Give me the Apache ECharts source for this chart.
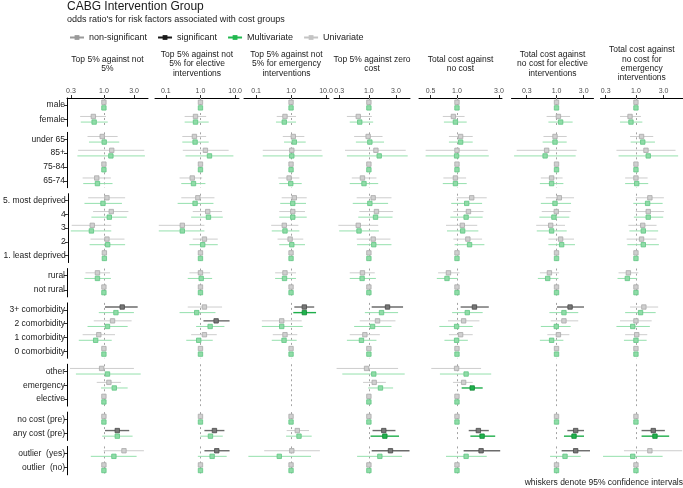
<!DOCTYPE html>
<html>
<head>
<meta charset="utf-8">
<title>CABG Intervention Group</title>
<script src="https://cdn.jsdelivr.net/npm/echarts@6.0.0/dist/echarts.min.js"></script>
<style>
html, body { margin: 0; padding: 0; background: #fff; }
#chart { width: 683px; height: 488px; }
</style>
</head>
<body>
<div id="chart"></div>
<script>
// facet groups (rows of the chart), top to bottom
const groupSizes = [2, 4, 5, 2, 4, 3, 2, 2];
const rowLabels = [
  'male', 'female',
  'under 65', '85+', '75-84', '65-74',
  '5. most deprived', '4', '3', '2', '1. least deprived',
  'rural', 'not rural',
  '3+ comorbidity', '2 comorbidity', '1 comorbidity', '0 comorbidity',
  'other', 'emergency', 'elective',
  'no cost (pre)', 'any cost (pre)',
  'outlier  (yes)', 'outlier  (no)'
];
const panelTitles = [
  'Top 5% against not\n5%',
  'Top 5% against not\n5% for elective\ninterventions',
  'Top 5% against not\n5% for emergency\ninterventions',
  'Top 5% against zero\ncost',
  'Total cost against\nno cost',
  'Total cost against\nno cost for elective\ninterventions',
  'Total cost against\nno cost for\nemergency\ninterventions'
];
const panelTicks = [[0.3, 1, 3], [0.1, 1, 10], [0.1, 1, 10], [0.3, 1, 3], [0.5, 1, 3], [0.3, 1, 3], [0.3, 1, 3]];
const panelRange = [[0.26, 5.0], [0.049, 12.9], [0.045, 12.2], [0.243, 5.3], [0.37, 3.25], [0.162, 4.46], [0.244, 6.5]];

// odds ratio [estimate, lower, upper]; R = reference category
const R = [1, 1, 1];
const top5Uni = [
  R, [0.68, 0.42, 1.08],
  [0.94, 0.55, 1.65], [1.33, 0.39, 4.36], R, [0.77, 0.46, 1.29],
  [1.10, 0.55, 2.15], [1.29, 0.66, 2.43], [0.64, 0.30, 1.29], [1.10, 0.60, 2.10], R,
  [0.79, 0.51, 1.25], R,
  [1.95, 1.04, 3.43], [1.37, 0.69, 2.75], [0.83, 0.46, 1.50], R,
  [0.92, 0.29, 2.99], [1.20, 0.77, 1.86], R,
  R, [1.63, 1.04, 2.52],
  [2.08, 0.99, 4.31], R
];
const top5Multi = [
  R, [0.70, 0.43, 1.15],
  [1.01, 0.58, 1.75], [1.29, 0.38, 4.47], R, [0.79, 0.47, 1.37],
  [0.95, 0.48, 1.91], [1.20, 0.62, 2.29], [0.62, 0.29, 1.29], [1.13, 0.58, 2.15], R,
  [0.79, 0.49, 1.29], R,
  [1.55, 0.83, 2.99], [1.14, 0.55, 2.38], [0.74, 0.40, 1.33], R,
  [1.14, 0.36, 3.83], [1.46, 0.90, 2.38], R,
  R, [1.63, 0.94, 2.85],
  [1.44, 0.62, 3.30], R
];
const top5ElecUni = [
  R, [0.72, 0.35, 1.46],
  [0.67, 0.30, 1.46], [1.39, 0.31, 6.5], R, [0.58, 0.25, 1.12],
  [0.84, 0.28, 2.53], [1.62, 0.60, 4.2], [0.30, 0.063, 1.30], [1.30, 0.60, 3.15], R,
  [1.00, 0.48, 1.90], R,
  [1.30, 0.43, 4.2], [2.83, 1.22, 6.9], [1.30, 0.54, 2.95], R,
  null, null, null,
  R, [2.53, 1.30, 4.9],
  [2.95, 1.30, 6.9], R
];
const top5ElecMulti = [
  R, [0.72, 0.35, 1.73],
  [0.70, 0.30, 1.73], [1.82, 0.37, 8.9], R, [0.63, 0.28, 1.39],
  [0.70, 0.22, 2.37], [1.70, 0.54, 4.4], [0.30, 0.063, 1.30], [1.16, 0.48, 3.15], R,
  [1.05, 0.43, 2.17], R,
  [0.78, 0.25, 2.71], [1.90, 0.75, 4.9], [0.89, 0.39, 2.26], R,
  null, null, null,
  R, [1.94, 0.99, 4.4],
  [2.17, 0.84, 5.7], R
];
const top5EmerUni = [
  R, [0.67, 0.39, 1.39],
  [1.16, 0.58, 2.40], [1.05, 0.155, 7.5], R, [0.88, 0.43, 1.73],
  [1.24, 0.54, 2.81], [1.12, 0.46, 2.51], [0.64, 0.27, 1.62], [0.94, 0.41, 2.24], R,
  [0.67, 0.35, 1.39], R,
  [2.40, 1.24, 4.6], [0.54, 0.146, 2.02], [0.67, 0.30, 1.51], R,
  null, null, null,
  R, [1.51, 0.75, 3.27],
  [1.05, 0.17, 6.7], R
];
const top5EmerMulti = [
  R, [0.64, 0.37, 1.39],
  [1.24, 0.63, 2.63], [1.05, 0.155, 8.0], R, [0.98, 0.46, 2.02],
  [1.12, 0.49, 2.68], [1.12, 0.46, 2.81], [0.67, 0.28, 1.73], [1.05, 0.46, 2.51], R,
  [0.65, 0.35, 1.39], R,
  [2.40, 1.16, 5.2], [0.54, 0.146, 2.16], [0.63, 0.28, 1.45], R,
  null, null, null,
  R, [1.69, 0.72, 3.90],
  [0.46, 0.060, 3.73], R
];
const top5ZeroUni = [
  R, [0.65, 0.41, 1.13],
  [0.97, 0.55, 1.74], [1.33, 0.38, 4.46], R, [0.77, 0.50, 1.36],
  [1.19, 0.61, 2.50], [1.36, 0.68, 2.67], [0.65, 0.29, 1.46], [1.19, 0.61, 2.40], R,
  [0.77, 0.46, 1.27], R,
  [2.13, 1.12, 4.0], [1.42, 0.69, 2.94], [0.85, 0.46, 1.56], R,
  [0.91, 0.27, 3.27], [1.24, 0.79, 1.99], R,
  R, [1.83, 1.16, 2.94],
  [2.40, 1.12, 5.2], R
];
const top5ZeroMulti = [
  R, [0.69, 0.46, 1.19],
  [1.04, 0.59, 1.85], [1.52, 0.41, 4.83], R, [0.82, 0.46, 1.46],
  [1.04, 0.52, 2.18], [1.31, 0.65, 2.61], [0.67, 0.30, 1.50], [1.22, 0.62, 2.50], R,
  [0.76, 0.46, 1.33], R,
  [1.67, 0.85, 3.27], [1.16, 0.55, 2.50], [0.74, 0.41, 1.36], R,
  [1.22, 0.34, 4.28], [1.60, 0.97, 2.67], R,
  R, [1.91, 1.07, 3.40],
  [1.56, 0.62, 3.84], R
];
const totalUni = [
  R, [0.91, 0.69, 1.22],
  [1.10, 0.81, 1.51], [1.00, 0.44, 2.24], R, [0.96, 0.70, 1.27],
  [1.47, 0.99, 2.18], [1.35, 0.91, 2.00], [1.15, 0.75, 1.70], [1.33, 0.91, 1.93], R,
  [0.80, 0.61, 1.07], R,
  [1.58, 1.10, 2.30], [1.19, 0.79, 1.80], [1.10, 0.81, 1.51], R,
  [0.99, 0.51, 1.88], [1.19, 0.90, 1.51], R,
  R, [1.75, 1.36, 2.30],
  [1.88, 1.19, 3.10], R
];
const totalMulti = [
  R, [0.96, 0.71, 1.29],
  [1.10, 0.81, 1.51], [0.99, 0.44, 2.30], R, [0.96, 0.69, 1.29],
  [1.29, 0.86, 1.93], [1.27, 0.84, 1.96], [1.16, 0.77, 1.75], [1.39, 0.94, 2.05], R,
  [0.77, 0.59, 1.02], R,
  [1.31, 0.88, 1.96], [0.99, 0.63, 1.51], [0.99, 0.72, 1.33], R,
  [1.27, 0.64, 2.45], [1.49, 1.13, 1.96], R,
  R, [1.93, 1.42, 2.72],
  [1.27, 0.75, 2.18], R
];
const totalElecUni = [
  R, [1.08, 0.67, 1.73],
  [0.94, 0.59, 1.51], [0.67, 0.20, 2.26], R, [0.82, 0.53, 1.28],
  [1.12, 0.65, 2.03], [0.99, 0.55, 1.77], [0.79, 0.44, 1.41], [1.18, 0.72, 2.03], R,
  [0.75, 0.51, 1.11], R,
  [1.73, 1.02, 3.04], [1.35, 0.79, 2.41], [1.08, 0.69, 1.68], R,
  null, null, null,
  R, [2.17, 1.55, 3.04],
  [2.17, 1.23, 3.87], R
];
const totalElecMulti = [
  R, [1.18, 0.72, 1.92],
  [0.94, 0.57, 1.51], [0.63, 0.18, 2.17], R, [0.82, 0.51, 1.32],
  [0.94, 0.53, 1.80], [0.90, 0.50, 1.68], [0.82, 0.45, 1.51], [1.23, 0.72, 2.11], R,
  [0.70, 0.47, 1.08], R,
  [1.35, 0.75, 2.41], [0.99, 0.53, 1.77], [0.82, 0.51, 1.32], R,
  null, null, null,
  R, [2.03, 1.35, 3.04],
  [1.41, 0.77, 2.66], R
];
const totalEmerUni = [
  R, [0.79, 0.53, 1.22],
  [1.25, 0.79, 1.99], [1.49, 0.46, 4.83], R, [1.00, 0.65, 1.59],
  [1.74, 0.99, 3.04], [1.63, 0.99, 3.04], [1.31, 0.74, 2.27], [1.25, 0.69, 2.27], R,
  [0.74, 0.50, 1.10], R,
  [1.37, 0.79, 2.42], [1.00, 0.53, 1.87], [1.03, 0.65, 1.57], R,
  null, null, null,
  R, [1.99, 1.25, 3.16],
  [1.74, 0.62, 6.3], R
];
const totalEmerMulti = [
  R, [0.82, 0.53, 1.29],
  [1.31, 0.81, 2.13], [1.63, 0.50, 5.36], R, [1.03, 0.65, 1.63],
  [1.59, 0.90, 2.89], [1.63, 0.92, 2.96], [1.34, 0.77, 2.42], [1.34, 0.71, 2.49], R,
  [0.71, 0.48, 1.05], R,
  [1.20, 0.65, 2.19], [0.88, 0.46, 1.74], [1.00, 0.62, 1.53], R,
  null, null, null,
  R, [2.13, 1.25, 3.75],
  [0.88, 0.27, 2.89], R
];

const panels = [
  [top5Uni, top5Multi], [top5ElecUni, top5ElecMulti], [top5EmerUni, top5EmerMulti],
  [top5ZeroUni, top5ZeroMulti], [totalUni, totalMulti],
  [totalElecUni, totalElecMulti], [totalEmerUni, totalEmerMulti]
];

// layout
const FONT = 'Liberation Sans';
const panelLeft = [67, 155, 244, 334, 419, 511.5, 600.5];
const panelWidth = [81, 84, 85, 76, 83, 82, 82.5];
const rowUnit = 13.5, groupGap = 6, plotTop = 98;

const palette = {
  uni: {
    ns: { line: '#cdcdcd', fill: '#cfcfcf', stroke: '#a9a9a9' },
    sig: { line: '#6b6b6b', fill: '#777777', stroke: '#4a4a4a' }
  },
  multi: {
    ns: { line: '#95e0ad', fill: '#8fdca7', stroke: '#5fc583' },
    sig: { line: '#1eae4a', fill: '#20b34d', stroke: '#128636' }
  }
};

function makeRender(kind, offset) {
  return function (params, api) {
    const idx = api.value(1);
    const est = api.value(0), lo = api.value(2), hi = api.value(3);
    const pe = api.coord([est, idx]);
    const pl = api.coord([lo, idx]);
    const ph = api.coord([hi, idx]);
    const y = pe[1] + offset;
    const sig = lo > 1 || hi < 1;
    const c = palette[kind][sig ? 'sig' : 'ns'];
    const s = 2.2;
    return {
      type: 'group',
      children: [
        { type: 'line', shape: { x1: pl[0], y1: y, x2: ph[0], y2: y },
          style: { stroke: c.line, lineWidth: sig ? 1.4 : 1 } },
        { type: 'rect', shape: { x: pe[0] - s, y: y - s, width: 2 * s, height: 2 * s },
          style: { fill: c.fill, stroke: c.stroke, lineWidth: 0.8 } }
      ]
    };
  };
}

const grids = [], xAxes = [], yAxes = [], series = [];
let groupTop = plotTop;
const groupTops = [], groupStarts = [];
let start = 0;
groupSizes.forEach(n => {
  groupTops.push(groupTop);
  groupStarts.push(start);
  groupTop += (n + 0.1) * rowUnit + groupGap;
  start += n;
});

panels.forEach((pair, p) => {
  groupSizes.forEach((n, g) => {
    const gi = grids.length;
    grids.push({
      left: panelLeft[p], width: panelWidth[p],
      top: groupTops[g], height: (n + 0.1) * rowUnit
    });
    xAxes.push({
      gridIndex: gi, type: 'log', position: 'top',
      min: panelRange[p][0], max: panelRange[p][1],
      show: g === 0,
      axisLine: { show: true, lineStyle: { color: '#000', width: 1 } },
      axisTick: { show: true, customValues: panelTicks[p], length: 3, lineStyle: { color: '#333' } },
      axisLabel: {
        customValues: panelTicks[p], formatter: v => Number(v).toFixed(1),
        fontSize: 7, color: '#4d4d4d', fontFamily: FONT, margin: 3
      },
      splitLine: { show: false }
    });
    const labels = rowLabels.slice(groupStarts[g], groupStarts[g] + n);
    yAxes.push({
      gridIndex: gi, type: 'category', inverse: true, data: labels,
      show: p === 0,
      axisLine: { show: true, lineStyle: { color: '#000', width: 1 } },
      axisTick: { show: true, alignWithLabel: true, length: 3, lineStyle: { color: '#333' } },
      axisLabel: { fontSize: 8.5, color: '#1a1a1a', fontFamily: FONT, margin: 2 },
      splitLine: { show: false }
    });
    ['uni', 'multi'].forEach((kind, k) => {
      const values = pair[k];
      const data = [];
      for (let i = 0; i < n; i++) {
        const v = values[groupStarts[g] + i];
        if (v) data.push([v[0], i, v[1], v[2]]);
      }
      const s = {
        type: 'custom', xAxisIndex: gi, yAxisIndex: gi,
        renderItem: makeRender(kind, kind === 'uni' ? -2.8 : 2.8),
        encode: { x: 0, y: 1 },
        data: data, silent: true, z: 3
      };
      if (k === 0) {
        s.markLine = {
          silent: true, symbol: 'none', label: { show: false },
          lineStyle: { color: '#a3a3a3', type: [2, 3], width: 1 },
          data: [{ xAxis: 1 }], z: 2
        };
      }
      series.push(s);
    });
  });
});

// legend-only series
const legendItems = [
  ['non-significant', '#9a9a9a'],
  ['significant', '#1a1a1a'],
  ['Multivariate', '#22b84f'],
  ['Univariate', '#c4c4c4']
];
legendItems.forEach(([name, color]) => {
  series.push({
    type: 'line', name: name, xAxisIndex: 0, yAxisIndex: 0, data: [],
    symbol: 'rect', symbolSize: 5, color: color,
    lineStyle: { color: color, width: 1.2 }, itemStyle: { color: color }
  });
});

const graphics = [
  { type: 'text', x: 67, y: 7, style: { text: 'CABG Intervention Group', font: '12px "' + FONT + '"', fill: '#1a1a1a', align: 'left', verticalAlign: 'middle' } },
  { type: 'text', x: 67, y: 20, style: { text: "odds ratio's for risk factors associated with cost groups", font: '9px "' + FONT + '"', fill: '#1a1a1a', align: 'left', verticalAlign: 'middle' } },
  { type: 'text', x: 683, y: 483, style: { text: 'whiskers denote 95% confidence intervals', font: '8.5px "' + FONT + '"', fill: '#1a1a1a', align: 'right', verticalAlign: 'middle' } }
];
panelTitles.forEach((t, p) => {
  graphics.push({
    type: 'text', x: panelLeft[p] + panelWidth[p] / 2, y: 64,
    style: { text: t, font: '8.5px "' + FONT + '"', lineHeight: 9.3, fill: '#1a1a1a', align: 'center', verticalAlign: 'middle' }
  });
});

const chart = echarts.init(document.getElementById('chart'));
chart.setOption({
  animation: false,
  backgroundColor: '#ffffff',
  legend: {
    left: 64, top: 28, itemWidth: 14, itemHeight: 6, itemGap: 10,
    textStyle: { fontSize: 9, color: '#1a1a1a', fontFamily: FONT },
    data: legendItems.map(d => d[0])
  },
  grid: grids,
  xAxis: xAxes,
  yAxis: yAxes,
  series: series,
  graphic: graphics
});
</script>
</body>
</html>
